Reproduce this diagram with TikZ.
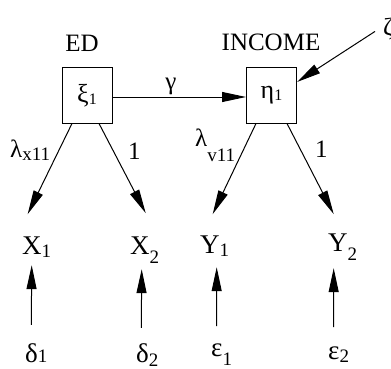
\documentclass[tikz,border=0pt]{standalone}
\usepackage{fontspec}
\setmainfont{Liberation Serif}
\usetikzlibrary{arrows.meta}

\newcommand{\fs}[1]{\fontsize{#1}{#1}\selectfont}
\newcommand{\lo}[3][19]{\raisebox{-#2pt}{\fs{#1}#3}}

\begin{document}
\begin{tikzpicture}[x=1pt,y=-1pt,
    latent/.style={draw, line width=1pt, minimum width=50pt, minimum height=55pt, inner sep=0pt},
    txt/.style={inner sep=0pt, anchor=base west},
    lab/.style={inner sep=0pt, anchor=base},
    arr/.style={line width=1pt, -{Triangle[length=24pt,width=10pt]}}]
    \useasboundingbox (0,0) rectangle (391,369);
    % latent variables
    \node[latent] (xi) at (87,95.5) {\fs{26}ξ\lo[16]{2}{1}};
    \node[latent] (eta) at (271.5,95.5) {\fs{26}η\lo[16]{2}{1}};
    \node[lab] (ed) at (82,52) {\fs{25}ED};
    \node[lab] (income) at (271,51) {\fs{25}INCOME};
    \node[txt] (zeta) at (383,36) {\fs{25}ζ};
    \node[lab] (gamma) at (171,89) {\fs{25}γ};
    % indicators
    \node[txt] (x1) at (22,254) {\fs{27}X\lo{3}{1}};
    \node[txt] (x2) at (130,254) {\fs{27}X\lo{9}{2}};
    \node[txt] (y1) at (200,253) {\fs{27}Y\lo{3}{1}};
    \node[txt] (y2) at (328,251) {\fs{27}Y\lo{9}{2}};
    % errors
    \node[txt] (d1) at (25,362) {\fs{27}δ\lo{0}{1}};
    \node[txt] (d2) at (136,362) {\fs{27}δ\lo{4}{2}};
    \node[txt] (e1) at (211,356) {\fs{27}ε\lo{9}{1}};
    \node[txt] (e2) at (328,359) {\fs{27}ε\lo{3}{2}};
    % loadings
    \node[txt] (lx) at (10,157) {\fs{25}λ\lo{3}{x11}};
    \node[txt] (lv) at (195,146) {\fs{25}λ\lo{16}{v11}};
    \node[txt] (onex) at (128,159) {\fs{25}1};
    \node[txt] (oney) at (315,157) {\fs{25}1};

    \draw[arr] ([yshift=-1.5pt]xi.east) -- ([yshift=-1.5pt]eta.west);
    \draw[arr] ([shift={(-8pt,-2pt)}]zeta.west) -- ([yshift=13.5pt]eta.east);
    \draw[arr] ([xshift=-15pt]xi.south) -- ([shift={(-9pt,22pt)}]x1.north);
    \draw[arr] ([xshift=12pt]xi.south) -- ([shift={(1pt,23pt)}]x2.north);
    \draw[arr] ([xshift=-15.5pt]eta.south) -- ([shift={(-2pt,21pt)}]y1.north);
    \draw[arr] ([xshift=15.5pt]eta.south) -- ([shift={(-9pt,19pt)}]y2.north);
    \draw[arr] ([shift={(-5pt,18pt)}]d1.north) -- ([shift={(-5pt,-8pt)}]x1.south);
    \draw[arr] ([shift={(-6pt,15pt)}]d2.north) -- ([shift={(-3pt,-6pt)}]x2.south);
    \draw[arr] ([shift={(-5pt,17pt)}]e1.north) -- ([shift={(2pt,-11pt)}]y1.south);
    \draw[arr] ([shift={(-5pt,19pt)}]e2.north) -- ([shift={(-9pt,-8pt)}]y2.south);
\end{tikzpicture}
\end{document}
